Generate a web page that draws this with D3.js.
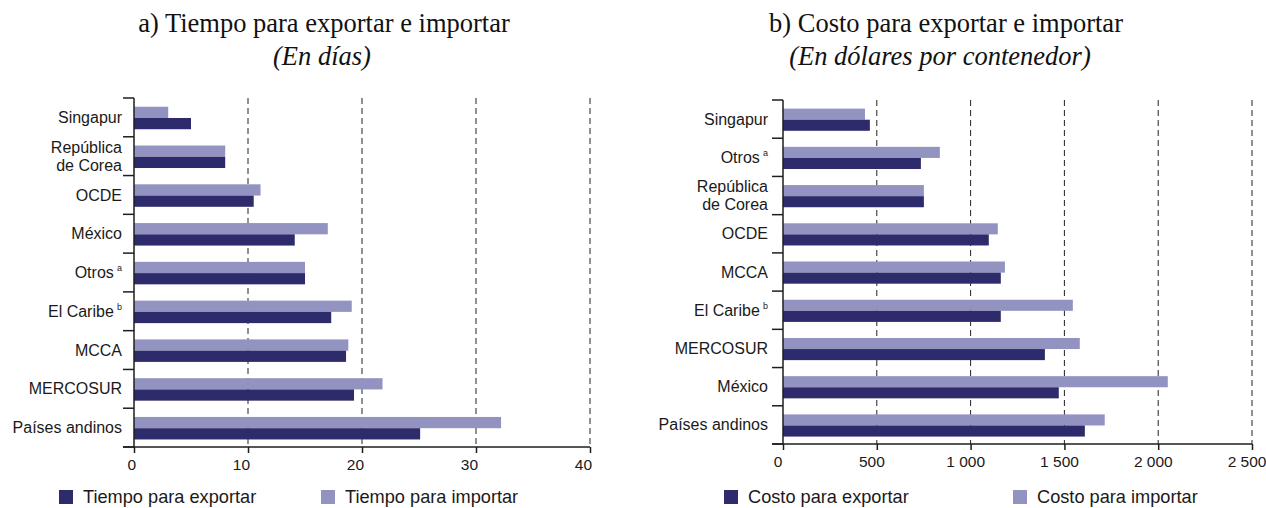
<!DOCTYPE html>
<html>
<head>
<meta charset="utf-8">
<script src="https://cdn.jsdelivr.net/npm/d3@7"></script>
<style>
  html, body { margin: 0; padding: 0; background: #fff; }
  svg { display: block; }
</style>
</head>
<body>
<svg id="chart" width="1266" height="508"></svg>
<script>
// ---------- DATA ----------
const timeCategories = ["Singapur", "República|de Corea", "OCDE", "México", "Otros^a", "El Caribe^b", "MCCA", "MERCOSUR", "Países andinos"];
const timeExport = [5.0, 8.0, 10.5, 14.1, 15.0, 17.3, 18.6, 19.3, 25.1];
const timeImport = [3.0, 8.0, 11.1, 17.0, 15.0, 19.1, 18.8, 21.8, 32.2];
const timeTicks = [0, 10, 20, 30, 40];

const costCategories = ["Singapur", "Otros^a", "República|de Corea", "OCDE", "MCCA", "El Caribe^b", "MERCOSUR", "México", "Países andinos"];
const costExport = [463, 735, 751, 1097, 1161, 1161, 1396, 1470, 1609];
const costImport = [437, 836, 751, 1145, 1183, 1545, 1582, 2051, 1715];
const costTicks = [0, 500, 1000, 1500, 2000, 2500];

const timeTitle = ["a) Tiempo para exportar e importar", "(En días)"];
const costTitle = ["b) Costo para exportar e importar", "(En dólares por contenedor)"];
const timeLegend = ["Tiempo para exportar", "Tiempo para importar"];
const costLegend = ["Costo para exportar", "Costo para importar"];

// ---------- STYLE ----------
const COL_EXP = "#2e2b6c";
const COL_IMP = "#9393c2";
const AXIS = "#1e1e1e";
const SANS = "'Liberation Sans', Arial, Helvetica, sans-serif";
const SERIF = "'Liberation Serif', 'Times New Roman', serif";

const svg = d3.select("#chart");

function fmtThousands(v) {
  return d3.format(",")(v).replace(/,/g, " ");
}

function drawPanel(cfg) {
  const g = svg.append("g");
  const x = d3.scaleLinear().domain([0, cfg.xMax]).range([cfg.x0, cfg.x1]);
  const y = d3.scaleBand().domain(cfg.categories).range([cfg.top, cfg.bottom]).paddingInner(0).paddingOuter(0);
  const bw = y.bandwidth();
  const barH = bw * 0.29;
  const pairOff = (bw - 2 * barH) / 2 + 0.6;

  // Titles
  g.append("text").attr("x", cfg.titleX).attr("y", 32)
    .attr("text-anchor", "middle").attr("font-family", SERIF).attr("font-size", 26.5)
    .attr("fill", "#111").text(cfg.title[0]);
  g.append("text").attr("x", cfg.subX).attr("y", 65)
    .attr("text-anchor", "middle").attr("font-family", SERIF).attr("font-style", "italic")
    .attr("font-size", 26.5).attr("fill", "#111").text(cfg.title[1]);

  // Gridlines (dashed)
  g.append("g").selectAll("line").data(cfg.ticks.filter(t => t > 0)).join("line")
    .attr("x1", d => x(d)).attr("x2", d => x(d))
    .attr("y1", cfg.top).attr("y2", cfg.bottom)
    .attr("stroke", "#222").attr("stroke-width", 1).attr("stroke-dasharray", "6,4");

  // Bars: import (top), export (bottom)
  g.append("g").selectAll("rect").data(cfg.categories).join("rect")
    .attr("x", x(0)).attr("y", d => y(d) + pairOff)
    .attr("width", (d, i) => x(cfg.imp[i]) - x(0)).attr("height", barH)
    .attr("fill", COL_IMP);
  g.append("g").selectAll("rect").data(cfg.categories).join("rect")
    .attr("x", x(0)).attr("y", d => y(d) + pairOff + barH)
    .attr("width", (d, i) => x(cfg.exp[i]) - x(0)).attr("height", barH)
    .attr("fill", COL_EXP);

  // Y axis line and ticks at band boundaries
  g.append("line").attr("x1", cfg.x0).attr("x2", cfg.x0)
    .attr("y1", cfg.top).attr("y2", cfg.bottom).attr("stroke", AXIS).attr("stroke-width", 1.5);
  const bounds = cfg.categories.map(c => y(c)).concat([cfg.bottom]);
  g.append("g").selectAll("line").data(bounds).join("line")
    .attr("x1", cfg.x0 - 11).attr("x2", cfg.x0)
    .attr("y1", d => d).attr("y2", d => d).attr("stroke", AXIS).attr("stroke-width", 1.5);

  // X axis
  const xAxis = d3.axisBottom(x).tickValues(cfg.ticks).tickSize(6).tickFormat(cfg.fmt);
  const ax = g.append("g").attr("transform", `translate(0,${cfg.bottom})`).call(xAxis);
  ax.select(".domain").remove();
  ax.selectAll(".tick line").attr("stroke", AXIS).attr("stroke-width", 1.5);
  ax.selectAll(".tick text").attr("font-family", SANS).attr("font-size", 15.5)
    .attr("fill", "#1a1a1a").attr("y", 12).attr("dy", "0.71em")
    .attr("text-anchor", cfg.tickAnchor).attr("dx", cfg.tickDx);
  g.append("line").attr("x1", cfg.x0 - 11).attr("x2", cfg.x1)
    .attr("y1", cfg.bottom).attr("y2", cfg.bottom).attr("stroke", AXIS).attr("stroke-width", 1.5);

  // Category labels
  const lab = g.append("g").selectAll("text").data(cfg.categories).join("text")
    .attr("x", cfg.x0 - cfg.labelGap).attr("y", d => y(d) + bw / 2)
    .attr("text-anchor", "end").attr("font-family", SANS).attr("font-size", 16)
    .attr("fill", "#1a1a1a");
  lab.each(function (d) {
    const t = d3.select(this);
    if (d.includes("|")) {
      const parts = d.split("|");
      t.append("tspan").attr("x", cfg.x0 - cfg.labelGap).attr("dy", "-0.2em").text(parts[0]);
      t.append("tspan").attr("x", cfg.x0 - cfg.labelGap).attr("dy", "1.13em").text(parts[1]);
    } else if (d.includes("^")) {
      const parts = d.split("^");
      t.attr("dy", "0.35em");
      t.append("tspan").text(parts[0] + "\u2009");
      t.append("tspan").attr("font-size", 9).attr("dy", "-0.8em").text(parts[1]);
    } else {
      t.attr("dy", "0.35em").text(d);
    }
  });

  // Legend
  const leg = g.append("g");
  [[COL_EXP, cfg.legend[0], cfg.leg1], [COL_IMP, cfg.legend[1], cfg.leg2]].forEach(([c, txt, lx]) => {
    leg.append("rect").attr("x", lx).attr("y", 490).attr("width", 14).attr("height", 14).attr("fill", c);
    leg.append("text").attr("x", lx + 24).attr("y", 503).attr("font-family", SANS)
      .attr("font-size", 18.2).attr("fill", "#1a1a1a").text(txt);
  });
}

drawPanel({
  categories: timeCategories, exp: timeExport, imp: timeImport,
  xMax: 40, ticks: timeTicks, fmt: d3.format("d"),
  x0: 134, x1: 590, top: 98, bottom: 447,
  labelGap: 12, tickAnchor: "end", tickDx: "0.1em",
  title: timeTitle, titleX: 324, subX: 322,
  legend: timeLegend, leg1: 59, leg2: 321
});

drawPanel({
  categories: costCategories, exp: costExport, imp: costImport,
  xMax: 2500, ticks: costTicks, fmt: fmtThousands,
  x0: 783, x1: 1252, top: 100, bottom: 444,
  labelGap: 15, tickAnchor: "middle", tickDx: "-0.35em",
  title: costTitle, titleX: 946, subX: 940,
  legend: costLegend, leg1: 724, leg2: 1013
});
</script>
</body>
</html>
